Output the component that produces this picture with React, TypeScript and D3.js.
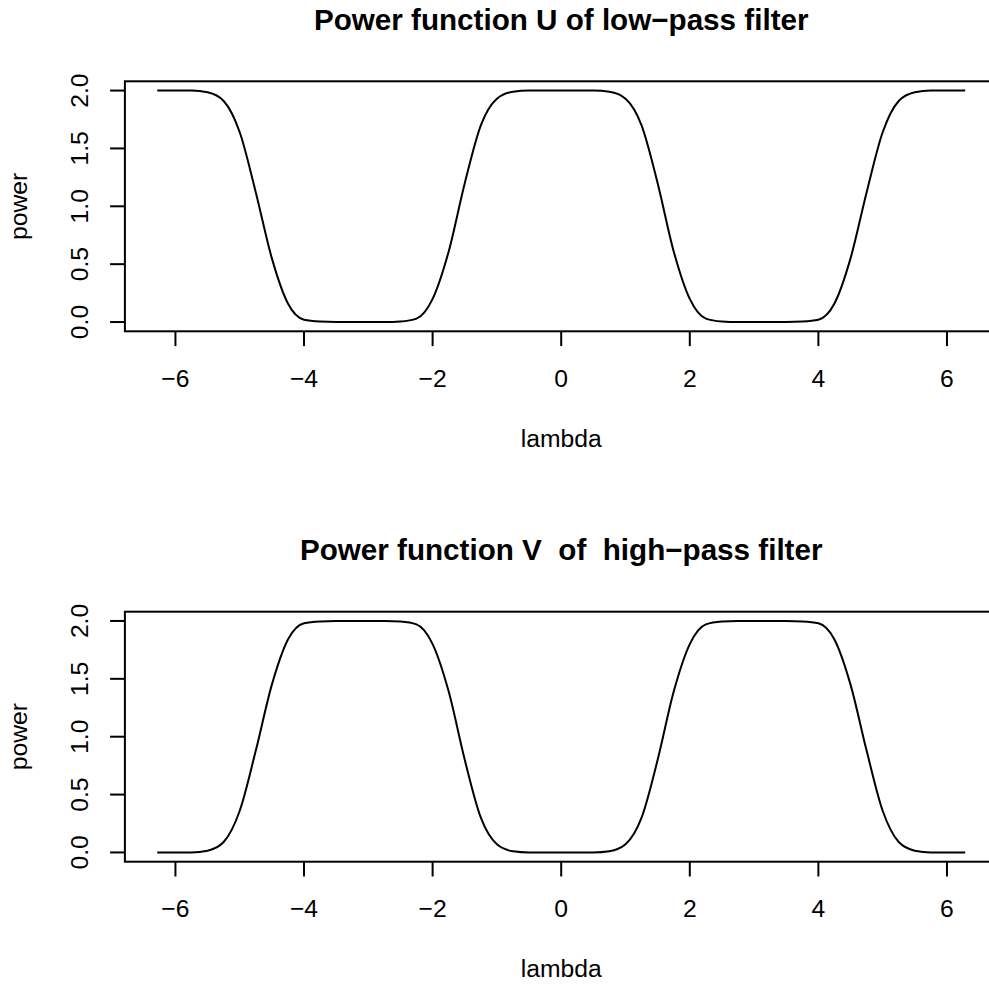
import React, { useEffect, useRef } from 'react'
import * as d3 from 'd3'

// lambda grid
const lambda = [
  -6.283, -6, -5.75, -5.5, -5.25, -5, -4.75, -4.5, -4.25, -4, -3.75, -3.5, -3.25,
  -3, -2.75, -2.5, -2.25, -2, -1.75, -1.5, -1.25, -1, -0.75, -0.5, -0.25, 0,
  0.25, 0.5, 0.75, 1, 1.25, 1.5, 1.75, 2, 2.25, 2.5, 2.75, 3, 3.25, 3.5, 3.75,
  4, 4.25, 4.5, 4.75, 5, 5.25, 5.5, 5.75, 6, 6.283,
]

// power of low-pass filter
const powerU = [
  2, 2, 2, 1.985, 1.91, 1.64, 1.12, 0.55, 0.16, 0.02, 0.004, 0, 0,
  0, 0, 0.005, 0.03, 0.2, 0.61, 1.2, 1.7, 1.93, 1.99, 2, 2, 2,
  2, 2, 1.99, 1.93, 1.7, 1.2, 0.61, 0.2, 0.03, 0.005, 0, 0, 0, 0, 0.004,
  0.02, 0.16, 0.55, 1.12, 1.64, 1.91, 1.985, 2, 2, 2,
]

// power of high-pass filter
const powerV = [
  0, 0, 0, 0.015, 0.09, 0.36, 0.88, 1.45, 1.84, 1.98, 1.996, 2, 2,
  2, 2, 1.995, 1.97, 1.8, 1.39, 0.8, 0.3, 0.07, 0.01, 0, 0, 0,
  0, 0, 0.01, 0.07, 0.3, 0.8, 1.39, 1.8, 1.97, 1.995, 2, 2, 2, 2, 1.996,
  1.98, 1.84, 1.45, 0.88, 0.36, 0.09, 0.015, 0, 0, 0,
]

const xTicks = [-6, -4, -2, 0, 2, 4, 6]
const yTicks = [0, 0.5, 1, 1.5, 2]
const titles = ['Power function U of low\u2212pass filter', 'Power function V  of  high\u2212pass filter']

const fmtX = (v: number) => (v < 0 ? '\u2212' + Math.abs(v) : String(v))
const fmtY = (v: number) => v.toFixed(1)

const App = () => {
  const ref = useRef<SVGSVGElement>(null)

  useEffect(() => {
    const svg = d3.select(ref.current)
    svg.selectAll('*').remove()
    const font = '"Liberation Sans", Arial, Helvetica, sans-serif'
    const fs = 24.7

    const left = 124.9
    const right = 997.5
    const boxH = 250
    const tops = [81.3, 611.7]
    const series = [powerU, powerV]

    tops.forEach((top, i) => {
      const bottom = top + boxH
      const x = d3.scaleLinear().domain([-6.786, 6.786]).range([left, right])
      const y = d3.scaleLinear().domain([-0.08, 2.08]).range([bottom, top])
      const g = svg.append('g')

      g.append('rect')
        .attr('x', left)
        .attr('y', top)
        .attr('width', right - left)
        .attr('height', boxH)
        .attr('fill', 'none')
        .attr('stroke', '#000')
        .attr('stroke-width', 2)

      const line = d3
        .line<number>()
        .x((_, j) => x(lambda[j]))
        .y((d) => y(d))
        .curve(d3.curveMonotoneX)

      g.append('path')
        .attr('d', line(series[i]) || '')
        .attr('fill', 'none')
        .attr('stroke', '#000')
        .attr('stroke-width', 2)

      // x axis
      g.selectAll('.xt')
        .data(xTicks)
        .enter()
        .append('line')
        .attr('x1', (d) => x(d))
        .attr('x2', (d) => x(d))
        .attr('y1', bottom)
        .attr('y2', bottom + 14.8)
        .attr('stroke', '#000')
        .attr('stroke-width', 2)
      g.selectAll('.xl')
        .data(xTicks)
        .enter()
        .append('text')
        .attr('x', (d) => x(d))
        .attr('y', bottom + 55.4)
        .attr('text-anchor', 'middle')
        .style('font-family', font)
        .style('font-size', fs + 'px')
        .text((d) => fmtX(d))

      // y axis
      g.selectAll('.yt')
        .data(yTicks)
        .enter()
        .append('line')
        .attr('x1', left - 14.8)
        .attr('x2', left)
        .attr('y1', (d) => y(d))
        .attr('y2', (d) => y(d))
        .attr('stroke', '#000')
        .attr('stroke-width', 2)
      g.selectAll('.yl')
        .data(yTicks)
        .enter()
        .append('text')
        .attr('transform', (d) => `translate(88.3,${y(d)}) rotate(-90)`)
        .attr('text-anchor', 'middle')
        .style('font-family', font)
        .style('font-size', fs + 'px')
        .text((d) => fmtY(d))

      g.append('text')
        .attr('transform', `translate(27.4,${top + boxH / 2}) rotate(-90)`)
        .attr('text-anchor', 'middle')
        .style('font-family', font)
        .style('font-size', fs + 'px')
        .text('power')

      g.append('text')
        .attr('x', (left + right) / 2)
        .attr('y', bottom + 115.5)
        .attr('text-anchor', 'middle')
        .style('font-family', font)
        .style('font-size', fs + 'px')
        .text('lambda')

      // title keeps its double spaces
      g.append('text')
        .attr('x', (left + right) / 2)
        .attr('y', top - 51.3)
        .attr('text-anchor', 'middle')
        .attr('xml:space', 'preserve')
        .style('white-space', 'pre')
        .style('font-family', font)
        .style('font-size', fs * 1.2 + 'px')
        .style('font-weight', 'bold')
        .text(titles[i])
    })
  })

  return (
    <svg
      ref={ref}
      width={989}
      height={985}
      style={{ position: 'absolute', left: 0, top: 0, background: '#fff' }}
    />
  )
}

export default App
